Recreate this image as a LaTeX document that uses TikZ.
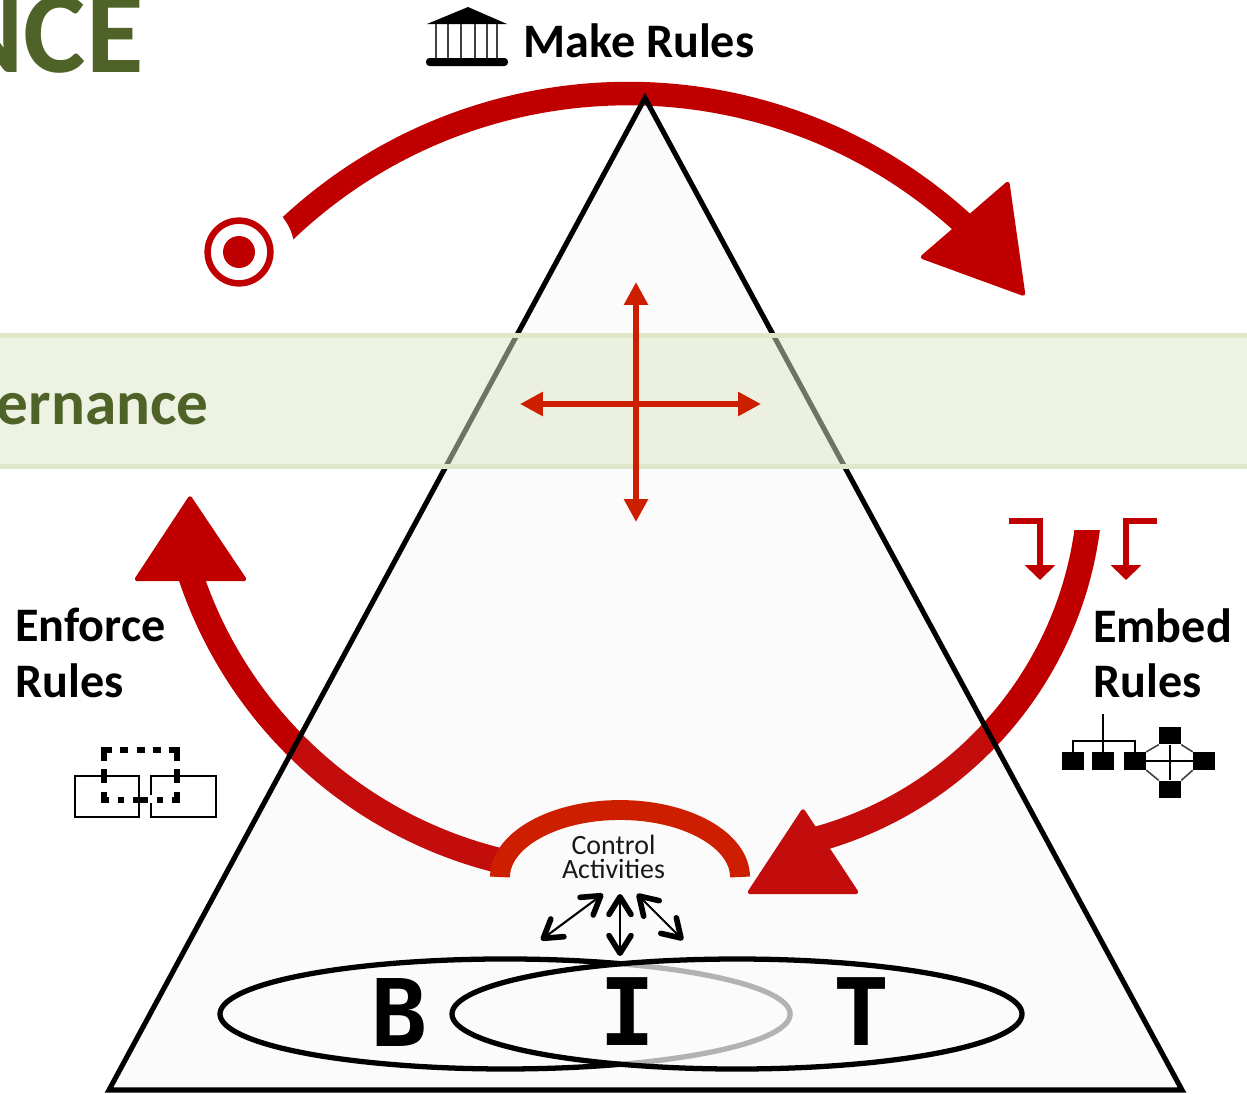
\documentclass[tikz,border=0pt]{standalone}
\usepackage{fontspec}
\setmainfont{Carlito}
\newfontfamily\letterfont{DejaVu Sans Mono}
\usetikzlibrary{arrows.meta,positioning,calc,shapes}
\definecolor{darkred}{RGB}{192,0,0}
\definecolor{ctrlred}{RGB}{206,30,0}
\definecolor{govgreen}{RGB}{79,98,40}
\definecolor{bandfill}{RGB}{221,230,197}
\definecolor{bandline}{RGB}{222,231,201}
\tikzset{
  bigarc/.style={darkred,line width=14.4pt},
  bighead/.style={fill=darkred,draw=darkred,line width=2.5pt,line join=round},
  crossarrow/.style={ctrlred,line width=3.6pt,{Triangle[length=13pt,width=13pt]}-{Triangle[length=13pt,width=13pt]}},
  elbow/.style={darkred,line width=3.4pt,-{Triangle[length=8.5pt,width=17pt]}},
  barbarrow/.style={line width=1.2pt,{Straight Barb[length=10pt,width=12.5pt,line width=3.2pt,round]}-{Straight Barb[length=10pt,width=12.5pt,line width=3.2pt,round]}},
  sqnode/.style={fill=black,minimum width=12.4pt,minimum height=10pt,inner sep=0pt},
  headline/.style={font=\bfseries\fontsize{27.4}{31.7}\selectfont,inner sep=0pt},
  bitletter/.style={font=\letterfont\bfseries\fontsize{53}{53}\selectfont,inner sep=0pt},
}
\begin{document}
\begin{tikzpicture}[x=0.02cm,y=-0.02cm]
  \useasboundingbox (0,0) rectangle (1247,1093);

  % title and triangle fill
  \node[font=\bfseries\fontsize{67}{67}\selectfont,text=govgreen,anchor=base east,inner sep=0pt] (title) at (144,72) {NCE};
  \fill[black!1.5] (645,98) -- (1182,1090) -- (109,1090) -- cycle;

  % the three rule arcs
  \coordinate (makestart) at (283,233);
  \coordinate (embedstart) at (1090,499.5);
  \coordinate (enforcestart) at (497,860);
  \draw[bigarc,line width=13.4pt] (makestart) arc (-134:-47.8:497);
  \fill[bighead] (1007.5,184) -- (1023,293.5) -- (923,257) -- cycle;
  \begin{scope}
    \clip (700,530) rectangle (1247,1000);
    \draw[bigarc] (embedstart) arc (3:76:372.6);
  \end{scope}
  \fill[bighead] (803,811.5) -- (856,892) -- (750,892) -- cycle;
  \draw[bigarc] (enforcestart) arc (104.2:164:435.7);
  \fill[bighead] (190,498.5) -- (244,579) -- (137,579) -- cycle;

  % target
  \node[circle,fill=white,minimum size=63.5pt,inner sep=0pt] (halo) at (239,252) {};
  \node[circle,draw=darkred,line width=3.7pt,minimum size=35.7pt,inner sep=0pt] (target) at (239,252) {};
  \node[circle,fill=darkred,minimum size=18.2pt,inner sep=0pt] (bull) at (239,252) {};

  % triangle outline
  \draw[line width=2.9pt,fill=white,fill opacity=0.05,line join=miter] (645,98) -- (1182,1090) -- (109,1090) -- cycle;

  % governance band
  \fill[bandfill,opacity=0.5] (-5,335) rectangle (1252,467);
  \draw[bandline,line width=3pt] (-5,335.5) -- (1252,335.5);
  \draw[bandline,line width=3pt] (-5,466.5) -- (1252,466.5);
  \node[font=\bfseries\fontsize{36}{36}\selectfont,text=govgreen,anchor=base east,inner sep=0pt] (band) at (209,424) {ernance};

  % cross
  \coordinate (crosstop) at (636,282);
  \coordinate (crossbot) at (636,522);
  \coordinate (crossleft) at (520,404);
  \coordinate (crossright) at (761,404);
  \draw[crossarrow] (crosstop) -- (crossbot);
  \draw[crossarrow] (crossleft) -- (crossright);

  % control activities
  \draw[ctrlred,line width=11.3pt] (500,877) arc (180:360:120 and 67);
  \node[font=\fontsize{15.9}{13.6}\selectfont,align=center,inner sep=0pt,text=black!90] (ctrl) at (613.5,857) {Control\\Activities};
  \coordinate (ba) at (541,940);
  \coordinate (bb) at (603,894);
  \coordinate (ca) at (620,894);
  \coordinate (cb) at (620,956);
  \coordinate (da) at (637,894);
  \coordinate (db) at (683,940);
  \draw[barbarrow] (ba) -- (bb);
  \draw[barbarrow] (ca) -- (cb);
  \draw[barbarrow] (da) -- (db);

  % B I T ovals
  \draw[line width=3pt,black!30] (621,963.8) arc (-66:66:285 and 55);
  \draw[line width=3pt] (621,1064.2) arc (66:294:285 and 55);
  \draw[line width=3pt] (737,1014) ellipse (285 and 55);
  \node[bitletter] (bletter) at (400,1012) {B};
  \node[bitletter] (iletter) at (628,1012) {I};
  \node[bitletter] (tletter) at (862,1012) {T};

  % labels
  \node[headline,anchor=base west] (make) at (523,57) {Make Rules};
  \node[headline,anchor=north west,align=left] (embed) at (1093,608) {Embed\\Rules};
  \node[headline,anchor=north west,align=left] (enforce) at (15,608) {Enforce\\Rules};

  % bank icon
  \fill (468,7) -- (507,24) -- (427,24) -- cycle;
  \foreach \colx in {436,448,461,475,487,497}
    \draw[black!75,line width=1.4pt] (\colx,24) -- (\colx,60);
  \fill[rounded corners=2pt] (426,58) rectangle (508,66);

  % elbow arrows
  \coordinate (elbowa) at (1009,521);
  \coordinate (elbowb) at (1157,521);
  \coordinate (elbowaend) at (1040,580);
  \coordinate (elbowbend) at (1126,580);
  \draw[elbow] (elbowa) -| (elbowaend);
  \draw[elbow] (elbowb) -| (elbowbend);

  % embed icon
  \node[sqnode] (sa) at (1073,761) {};
  \node[sqnode] (sb) at (1103,761) {};
  \node[sqnode] (sc) at (1135,761) {};
  \node[sqnode] (st) at (1170,735.5) {};
  \node[sqnode] (sr) at (1204,761) {};
  \node[sqnode] (sd) at (1170,789.5) {};
  \coordinate (stem) at (1103,714);
  \draw[line width=1.3pt] (stem) -- (sb);
  \draw[line width=1.3pt] (sa) |- (1103,741) -| (sc);
  \draw[line width=1.3pt] (sc) -- (sr);
  \draw[line width=1.3pt] (st) -- (sd);
  \draw[line width=0.9pt,black!75] (sc.north east) -- (st.south west);
  \draw[line width=0.9pt,black!75] (st.south east) -- (sr.north west);
  \draw[line width=0.9pt,black!75] (sr.south west) -- (sd.north east);
  \draw[line width=0.9pt,black!75] (sd.north west) -- (sc.south east);

  % enforce icon
  \draw[line width=1pt] (75,776) rectangle (139,817);
  \draw[line width=1pt] (151,795) |- (216,776) |- (151,817) -- (151,803);
  \draw[line width=3.2pt] (104,761) -- (104,750) -- (112,750) (120,750) -- (128,750) (137,750) -- (145,750)
    (153,750) -- (161,750) (169,750) -- (177,750) -- (177,761) (177,769) -- (177,783)
    (177,792) -- (177,800) -- (172,800) (157,800) -- (163,800) (133,800) -- (148,800) (118,800) -- (124,800)
    (109,800) -- (104,800) -- (104,792) (104,783) -- (104,769);
\end{tikzpicture}
\end{document}
